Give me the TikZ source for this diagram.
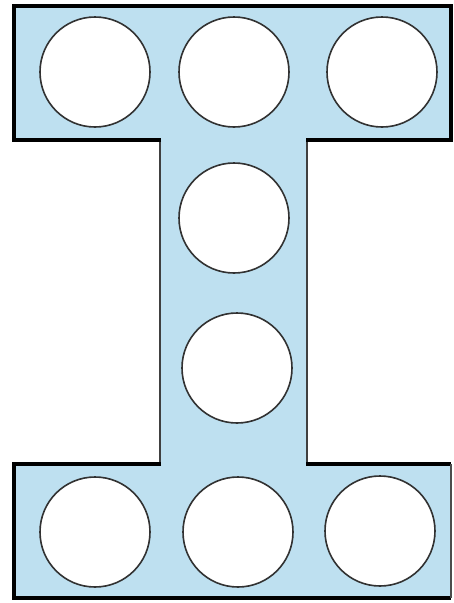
\documentclass[tikz,border=0pt]{standalone}
\definecolor{beamblue}{RGB}{190,224,240}
\definecolor{holeline}{RGB}{50,50,50}
\begin{document}
\begin{tikzpicture}[x=1pt,y=-1pt,
    hole/.style={draw=holeline, line width=1.6pt, fill=white},
    flange/.style={line width=4pt, line join=miter},
    web/.style={draw=black!75, line width=2pt}]
            % I-section with nine round holes
            \useasboundingbox (0,0) rectangle (454,603);
            \fill[beamblue] (14,6) -- (451,6) -- (451,140) -- (307,140) -- (307,464) -- (451,464)
                -- (451,598) -- (14,598) -- (14,464) -- (160,464) -- (160,140) -- (14,140) -- cycle;
            \draw[web] (160,140) -- (160,464);
            \draw[web] (307,140) -- (307,464);
            \draw[flange] (161,140) -- (14,140) -- (14,6) -- (451,6) -- (451,140) -- (306,140);
            \draw[flange] (161,464) -- (14,464) -- (14,598) -- (451,598);
            \draw[flange] (306,464) -- (451,464);
            \draw[line width=2pt, black!70] (451,464) -- (451,598);
            \foreach \x/\y/\n in {95/72/t1, 234/72/t2, 382/72/t3, 234/218/w1, 237/368/w2, 95/532/b1, 238/532/b2, 380/531/b3}
                \node[hole, circle, minimum size=110pt, inner sep=0pt] (\n) at (\x,\y) {};
            \end{tikzpicture}
\end{document}
